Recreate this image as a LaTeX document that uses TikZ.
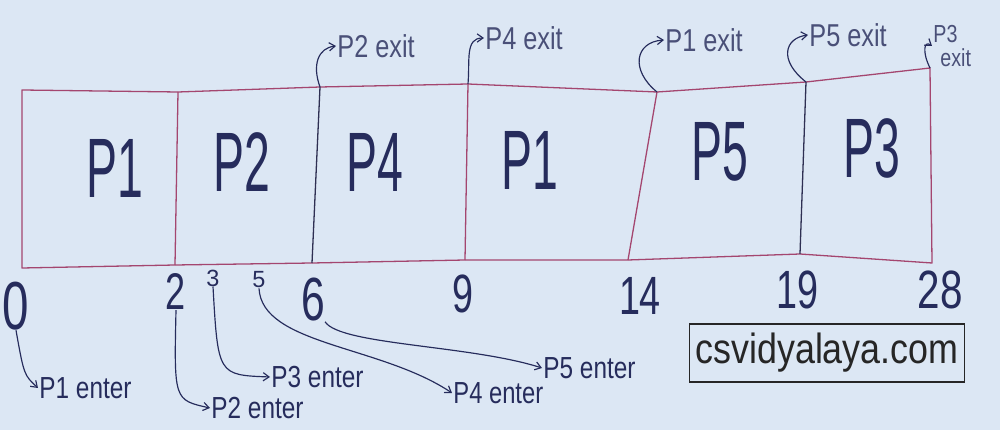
\documentclass[tikz,border=0pt]{standalone}
\usepackage{fontspec}
\setmainfont{Liberation Sans}
\usepackage{graphicx}
\usetikzlibrary{arrows.meta}
\definecolor{bg}{HTML}{DCE7F4}
\definecolor{boxline}{HTML}{A4466F}
\definecolor{darkline}{HTML}{2E2F52}
\definecolor{ink}{HTML}{262C5C}
\definecolor{inkgray}{HTML}{4A5078}
\newcommand{\nrw}[2]{\scalebox{#1}[1]{#2}}
\begin{document}
\begin{tikzpicture}[x=0.03cm,y=-0.03cm,
  boxedge/.style={draw=boxline,line width=1.1pt,line join=round},
  darkedge/.style={draw=darkline,line width=1.1pt},
  proc/.style={text=ink,inner sep=0pt,font=\fontsize{72}{76}\selectfont},
  bigtime/.style={text=ink,inner sep=0pt,font=\fontsize{52}{56}\selectfont},
  smalltime/.style={text=ink,inner sep=0pt,font=\fontsize{20}{22}\selectfont},
  lbl/.style={text=ink,inner sep=1pt,anchor=west,font=\fontsize{26}{30}\selectfont},
  exitlbl/.style={text=inkgray,inner sep=1pt,anchor=west,font=\fontsize{27}{30}\selectfont},
  arr/.style={draw=ink,line width=1pt,-{Straight Barb[length=5pt,width=7pt]}},
  webbox/.style={draw=black!85,line width=1.4pt,minimum width=8.25cm,minimum height=1.74cm,inner sep=0pt,
    text=black!85,font=\fontsize{36}{38}\selectfont}
]
\fill[bg] (0,0) rectangle (1000,430);
\useasboundingbox (0,0) rectangle (1000,430);

% corner coordinates of the chart
\coordinate (c0t) at (22,90);
\coordinate (c0b) at (22,268);
\coordinate (c1t) at (178,92);
\coordinate (c1b) at (175,265);
\coordinate (c2t) at (320,87);
\coordinate (c2b) at (312,263);
\coordinate (c3t) at (468,84);
\coordinate (c3b) at (465,260);
\coordinate (c4t) at (657,92);
\coordinate (c4b) at (628,260);
\coordinate (c5t) at (806,82);
\coordinate (c5b) at (800,254);
\coordinate (c6t) at (930,68);
\coordinate (c6b) at (932,263);

% outline
\draw[boxedge] (c0t) -- (c1t) -- (c2t) -- (c3t) -- (c4t) -- (c5t) -- (c6t)
  -- (c6b) -- (c5b) -- (c4b) -- (c3b) -- (c2b) -- (c1b) -- (c0b) -- cycle;
% dividers
\draw[boxedge] (c1t) -- (c1b);
\draw[darkedge] (c2t) -- (c2b);
\draw[boxedge] (c3t) -- (c3b);
\draw[boxedge] (c4t) -- (c4b);
\draw[darkedge] (c5t) -- (c5b);

% process names
\node[proc] (pa) at (115,168) {\nrw{0.55}{P1}};
\node[proc] (pb) at (242,162) {\nrw{0.55}{P2}};
\node[proc] (pc) at (375,162) {\nrw{0.55}{P4}};
\node[proc] (pd) at (530,160) {\nrw{0.55}{P1}};
\node[proc] (pe) at (720,152) {\nrw{0.55}{P5}};
\node[proc] (pf) at (872,148) {\nrw{0.55}{P3}};

% time marks
\node[bigtime,font=\fontsize{58}{60}\selectfont] (t0) at (16,306) {\nrw{0.7}{0}};
\node[bigtime,font=\fontsize{44}{48}\selectfont] (t2) at (176,292) {\nrw{0.7}{2}};
\node[smalltime] (t3) at (213,278) {3};
\node[smalltime] (t5) at (259,280) {5};
\node[bigtime] (t6) at (313,300) {\nrw{0.7}{6}};
\node[bigtime,font=\fontsize{46}{50}\selectfont] (t9) at (463,294) {\nrw{0.7}{9}};
\node[bigtime,font=\fontsize{46}{50}\selectfont] (t14) at (640,296) {\nrw{0.7}{14}};
\node[bigtime,font=\fontsize{46}{50}\selectfont] (t19) at (797,290) {\nrw{0.7}{19}};
\node[bigtime,font=\fontsize{46}{50}\selectfont] (t28) at (940,290) {\nrw{0.75}{28}};

% entry labels
\node[lbl] (e1) at (38,388) {\nrw{0.8}{P1 enter}};
\node[lbl] (e2) at (210,408) {\nrw{0.8}{P2 enter}};
\node[lbl] (e3) at (270,377) {\nrw{0.8}{P3 enter}};
\node[lbl] (e4) at (452,393) {\nrw{0.78}{P4 enter}};
\node[lbl] (e5) at (542,368) {\nrw{0.8}{P5 enter}};

% entry arrows
\draw[arr] (t0.south) .. controls (24,375) .. (e1.west);
\draw[arr] (t2.south) .. controls (174,400) .. (e2.west);
\draw[arr] (t3.south) .. controls (218,375) .. (e3.west);
\draw[arr] (t5.south) .. controls (262,345) and (380,345) .. (e4.west);
\draw[arr] (t6.south east) .. controls (340,345) and (470,345) .. (e5.west);

% exit labels
\node[exitlbl] (x2) at (336,46) {\nrw{0.8}{P2 exit}};
\node[exitlbl] (x4) at (484,38) {\nrw{0.8}{P4 exit}};
\node[exitlbl] (x1) at (664,40) {\nrw{0.8}{P1 exit}};
\node[exitlbl] (x5) at (808,35) {\nrw{0.8}{P5 exit}};
\node[exitlbl,align=left,font=\fontsize{21}{21}\selectfont] (x3) at (932,46) {\nrw{0.8}{P3}\\\hspace{6pt}\nrw{0.8}{exit}};

% exit arrows
\draw[arr] (c2t) .. controls (312,65) and (318,48) .. (x2.west);
\draw[arr] (c3t) .. controls (470,60) and (465,38) .. (x4.west);
\draw[arr] (c4t) .. controls (630,70) and (635,42) .. (x1.west);
\draw[arr] (c5t) .. controls (778,60) and (785,38) .. (x5.west);
\draw[arr] (c6t) .. controls (922,52) and (924,40) .. (x3.west);

% website box
\node[webbox] (web) at (827,353) {\nrw{0.85}{csvidyalaya.com}};
\end{tikzpicture}
\end{document}
